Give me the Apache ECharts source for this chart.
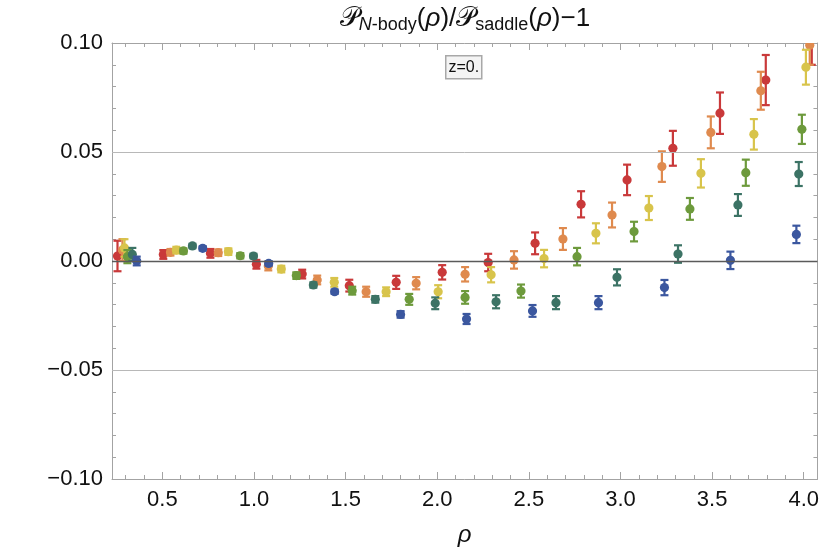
<!DOCTYPE html>
<html>
<head>
<meta charset="utf-8">
<script src="https://cdn.jsdelivr.net/npm/echarts@6/dist/echarts.min.js"></script>
<style>
  html, body { margin: 0; padding: 0; background: #fff; }
  #chart { width: 822px; height: 553px; }
</style>
</head>
<body>
<div id="chart"></div>
<script>
// values
const rhoRed = [0.255, 0.505, 0.762, 1.013, 1.263, 1.520, 1.776, 2.027, 2.278, 2.534, 2.785, 3.036, 3.286, 3.543, 3.793, 4.044]
const valRed = [0.0023, 0.003, 0.0035, -0.0015, -0.006, -0.0113, -0.0098, -0.0052, -0.0007, 0.0081, 0.026, 0.0372, 0.0517, 0.0678, 0.083, 0.103]
const errRed = [0.007, 0.002, 0.002, 0.002, 0.002, 0.0027, 0.003, 0.0033, 0.004, 0.005, 0.006, 0.007, 0.008, 0.0095, 0.0115, 0.013]

const rhoOrange = [0.282, 0.544, 0.805, 1.078, 1.345, 1.612, 1.885, 2.152, 2.419, 2.686, 2.954, 3.226, 3.493, 3.766, 4.033]
const valOrange = [0.005, 0.004, 0.0038, -0.0023, -0.0087, -0.0141, -0.0102, -0.0061, 0.0005, 0.0101, 0.0211, 0.0433, 0.059, 0.0781, 0.099]
const errOrange = [0.005, 0.0015, 0.0015, 0.002, 0.002, 0.0023, 0.0028, 0.0033, 0.004, 0.005, 0.0057, 0.007, 0.0073, 0.0087, 0.009]

const rhoYellow = [0.293, 0.576, 0.860, 1.149, 1.438, 1.721, 2.005, 2.294, 2.583, 2.866, 3.155, 3.439, 3.728, 4.012]
const valYellow = [0.006, 0.005, 0.0043, -0.0037, -0.0098, -0.0141, -0.0141, -0.0063, 0.0011, 0.0127, 0.0243, 0.0402, 0.0581, 0.0889]
const errYellow = [0.004, 0.0015, 0.0015, 0.0015, 0.002, 0.002, 0.003, 0.0035, 0.004, 0.0046, 0.0055, 0.0065, 0.007, 0.008]

const rhoGreen = [0.309, 0.615, 0.925, 1.231, 1.536, 1.847, 2.152, 2.457, 2.763, 3.074, 3.379, 3.684, 3.990]
const valGreen = [0.002, 0.0046, 0.0024, -0.0067, -0.0136, -0.0176, -0.0167, -0.0138, 0.002, 0.0135, 0.0239, 0.0405, 0.0604]
const errGreen = [0.003, 0.0012, 0.0012, 0.0015, 0.0018, 0.0025, 0.0029, 0.003, 0.004, 0.0045, 0.005, 0.006, 0.0067]

const rhoTeal = [0.336, 0.664, 0.997, 1.324, 1.662, 1.989, 2.321, 2.648, 2.981, 3.314, 3.641, 3.973]
const valTeal = [0.003, 0.0069, 0.0023, -0.011, -0.0176, -0.0194, -0.0187, -0.0191, -0.0075, 0.0032, 0.0257, 0.0399]
const errTeal = [0.003, 0.001, 0.001, 0.0012, 0.0015, 0.0027, 0.003, 0.003, 0.0037, 0.004, 0.005, 0.0055]

const rhoBlue = [0.36, 0.72, 1.08, 1.44, 1.80, 2.16, 2.52, 2.88, 3.24, 3.60, 3.96]
const valBlue = [0.0, 0.0058, -0.0011, -0.0141, -0.0245, -0.0266, -0.0229, -0.0191, -0.0122, 0.0003, 0.0122]
const errBlue = [0.002, 0.001, 0.001, 0.001, 0.0015, 0.0023, 0.0027, 0.003, 0.0035, 0.004, 0.004]

const xMajorTicks = [0.5, 1.0, 1.5, 2.0, 2.5, 3.0, 3.5, 4.0]
const xMinorTicks = []
for (let k = 3; k <= 40; k++) {
  if (k % 5 !== 0) xMinorTicks.push(k / 10)
}

const FONT = "'Liberation Sans', Arial, sans-serif"
const frameColor = '#a3a3a3'
const xMin = 0.225, xMax = 4.075

function renderErrorPoint(params, api) {
  const x = api.value(0), y = api.value(1), e = api.value(2)
  const c = api.coord([x, y])
  const top = api.coord([x, y + e])[1]
  const bot = api.coord([x, y - e])[1]
  const color = api.visual('color')
  const ls = { stroke: color, lineWidth: 2.2 }
  return {
    type: 'group',
    children: [
      { type: 'line', shape: { x1: c[0], y1: top, x2: c[0], y2: bot }, style: ls },
      { type: 'line', shape: { x1: c[0] - 4, y1: top, x2: c[0] + 4, y2: top }, style: ls },
      { type: 'line', shape: { x1: c[0] - 4, y1: bot, x2: c[0] + 4, y2: bot }, style: ls },
      { type: 'circle', shape: { cx: c[0], cy: c[1], r: 4.6 }, style: { fill: color } }
    ]
  }
}

function pointSeries(name, color, rho, val, err) {
  return {
    name: name,
    type: 'custom',
    renderItem: renderErrorPoint,
    clip: true,
    itemStyle: { color: color },
    encode: { x: 0, y: 1 },
    data: rho.map((r, i) => [r, val[i], err[i]]),
    z: 3
  }
}

function xAxisPart(position, ticks, len, showLine, showLabel) {
  return {
    type: 'value', min: xMin, max: xMax, position: position,
    axisLine: { show: showLine, onZero: false, lineStyle: { color: frameColor, width: 1 } },
    axisTick: { show: true, inside: true, length: len, customValues: ticks, lineStyle: { color: frameColor } },
    axisLabel: showLabel ? {
      customValues: xMajorTicks, color: '#111', fontSize: 22, fontFamily: FONT, margin: 10,
      formatter: v => v.toFixed(1)
    } : { show: false },
    splitLine: { show: false }
  }
}

function yAxisPart(position, showLabel) {
  return {
    type: 'value', min: -0.1, max: 0.1, interval: 0.05, position: position,
    axisLine: { show: true, onZero: false, lineStyle: { color: frameColor, width: 1 } },
    axisTick: { show: true, inside: true, length: 7, lineStyle: { color: frameColor } },
    minorTick: { show: true, splitNumber: 5, length: 4, lineStyle: { color: frameColor } },
    axisLabel: showLabel ? {
      color: '#111', fontSize: 22, fontFamily: FONT, margin: 9,
      formatter: v => v.toFixed(2).replace('-', '\u2212')
    } : { show: false },
    splitLine: { show: false }
  }
}

const chart = echarts.init(document.getElementById('chart'))

const bottomAxis = xAxisPart('bottom', xMajorTicks, 7, true, true)
bottomAxis.name = 'ρ'
bottomAxis.nameLocation = 'middle'
bottomAxis.nameGap = 44
bottomAxis.nameTextStyle = { fontSize: 24, fontStyle: 'italic', fontFamily: FONT, color: '#111' }

const titleRich = {
  P: { fontSize: 27, fontWeight: 'normal', fontFamily: "'DejaVu Sans', serif", color: '#111', lineHeight: 30, verticalAlign: 'middle' },
  n: { fontSize: 26, fontWeight: 'normal', fontFamily: FONT, color: '#111', lineHeight: 30, verticalAlign: 'middle' },
  i: { fontSize: 26, fontWeight: 'normal', fontFamily: FONT, fontStyle: 'italic', color: '#111', lineHeight: 30, verticalAlign: 'middle' },
  s: { fontSize: 18, fontWeight: 'normal', fontFamily: FONT, color: '#111', lineHeight: 13, verticalAlign: 'bottom' },
  si: { fontSize: 18, fontWeight: 'normal', fontFamily: FONT, fontStyle: 'italic', color: '#111', lineHeight: 13, verticalAlign: 'bottom' }
}

chart.setOption({
  animation: false,
  backgroundColor: '#fff',
  title: {
    text: '{P|𝒫}{si|N}{s|-body}{n|(}{i|ρ}{n|)/}{P|𝒫}{s|saddle}{n|(}{i|ρ}{n|)\u22121}',
    left: 465,
    top: 4,
    padding: 0,
    textAlign: 'center',
    textStyle: { fontWeight: 'normal', rich: titleRich }
  },
  graphic: [
    {
      type: 'group', left: 445, top: 55,
      children: [
        { type: 'rect', shape: { x: 0, y: 0, width: 36, height: 23 }, style: { fill: '#f4f4f4', stroke: '#a8a8a8', lineWidth: 1.5 } },
        { type: 'text', x: 18, y: 12, style: { text: 'z=0.', fontSize: 16, fontFamily: FONT, fill: '#111', align: 'center', verticalAlign: 'middle' } }
      ]
    }
  ],
  grid: { left: 112, right: 4, top: 43, bottom: 74, containLabel: false },
  xAxis: [
    bottomAxis,
    xAxisPart('bottom', xMinorTicks, 4, false, false),
    xAxisPart('top', xMajorTicks, 7, true, false),
    xAxisPart('top', xMinorTicks, 4, false, false)
  ],
  yAxis: [
    yAxisPart('left', true),
    yAxisPart('right', false)
  ],
  series: [
    {
      type: 'line', data: [], z: 1, silent: true,
      markLine: {
        silent: true, symbol: 'none', label: { show: false }, animation: false,
        data: [
          { yAxis: 0.05, lineStyle: { color: '#b8b8b8', width: 1, type: 'solid' } },
          { yAxis: -0.05, lineStyle: { color: '#b8b8b8', width: 1, type: 'solid' } },
          { yAxis: 0, lineStyle: { color: '#5a5a5a', width: 1.4, type: 'solid' } }
        ]
      }
    },
    pointSeries('red', '#c9393a', rhoRed, valRed, errRed),
    pointSeries('orange', '#df8a4e', rhoOrange, valOrange, errOrange),
    pointSeries('yellow', '#d8c44b', rhoYellow, valYellow, errYellow),
    pointSeries('green', '#6d9a3c', rhoGreen, valGreen, errGreen),
    pointSeries('teal', '#3c7365', rhoTeal, valTeal, errTeal),
    pointSeries('blue', '#3b579f', rhoBlue, valBlue, errBlue)
  ]
})
</script>
</body>
</html>
